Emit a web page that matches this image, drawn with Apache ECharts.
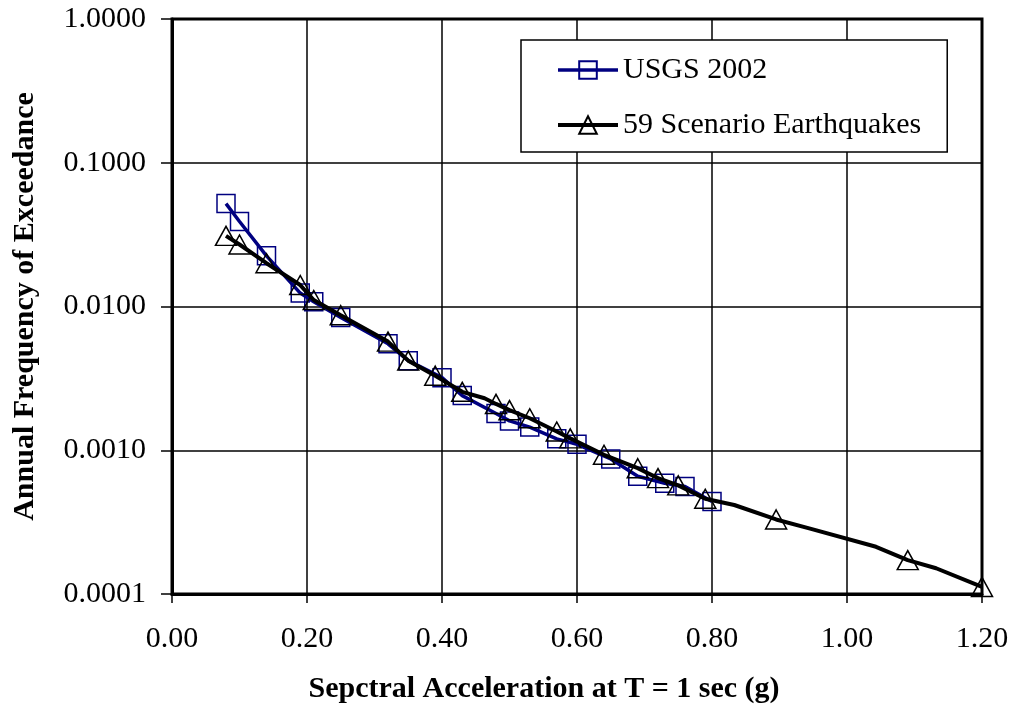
<!DOCTYPE html>
<html>
<head>
<meta charset="utf-8">
<script src="https://cdn.jsdelivr.net/npm/echarts@6/dist/echarts.min.js"></script>
<style>
  html, body { margin: 0; padding: 0; background: #fff; }
  #chart { width: 1018px; height: 712px; }
</style>
</head>
<body>
<div id="chart"></div>
<script>
// USGS 2002 hazard curve (markers on every point)
const usgsX = [0.08, 0.10, 0.14, 0.19, 0.21, 0.25, 0.32, 0.35, 0.40, 0.43, 0.48, 0.50, 0.53, 0.57, 0.60, 0.65, 0.69, 0.73, 0.76, 0.80];
const usgsY = [0.052, 0.039, 0.0225, 0.0124, 0.0108, 0.0084, 0.0055, 0.0042, 0.0032, 0.0024, 0.0018, 0.0016, 0.00145, 0.0012, 0.0011, 0.00087, 0.00066, 0.00059, 0.00056, 0.00044];

// 59 scenario earthquakes: marker points
const scenX = [0.08, 0.10, 0.14, 0.19, 0.21, 0.25, 0.32, 0.35, 0.39, 0.43, 0.48, 0.50, 0.53, 0.57, 0.59, 0.64, 0.69, 0.72, 0.75, 0.79, 0.895, 1.09, 1.20];
const scenY = [0.031, 0.027, 0.020, 0.0141, 0.0111, 0.0087, 0.0057, 0.0042, 0.0033, 0.00255, 0.0021, 0.0019, 0.00167, 0.00135, 0.00121, 0.00093, 0.00075, 0.00064, 0.00057, 0.00046, 0.00033, 0.000172, 0.000112];
// extra points on the same curve that carry no marker
const scenLineX = [0.463, 0.833, 0.944, 1.043, 1.132];
const scenLineY = [0.0023, 0.000416, 0.000286, 0.000213, 0.000151];

const FONT = "'Liberation Serif', 'Times New Roman', serif";

const usgsData = usgsX.map((x, i) => [x, usgsY[i]]);

let scenPts = scenX.map((x, i) => ({ value: [x, scenY[i]] }));
scenLineX.forEach((x, i) => scenPts.push({ value: [x, scenLineY[i]], symbol: 'none' }));
scenPts.sort((a, b) => a.value[0] - b.value[0]);

const chart = echarts.init(document.getElementById('chart'), null, { renderer: 'canvas' });

const option = {
  animation: false,
  backgroundColor: '#fff',
  grid: {
    left: 172,
    right: 36,
    top: 19,
    bottom: 118,
    show: true,
    borderColor: '#000',
    borderWidth: 3
  },
  legend: {
    orient: 'vertical',
    left: 521,
    top: 40,
    padding: [15, 26, 12, 35],
    itemGap: 25,
    itemWidth: 60,
    itemHeight: 22,
    backgroundColor: '#fff',
    borderColor: '#000',
    borderWidth: 1.5,
    borderRadius: 0,
    textStyle: { fontFamily: FONT, fontSize: 30, color: '#000' },
    data: [
      { name: 'USGS 2002', lineStyle: { width: 3.5, color: '#000080' } },
      { name: '59 Scenario Earthquakes', lineStyle: { width: 4, color: '#000' } }
    ]
  },
  xAxis: {
    type: 'value',
    min: 0,
    max: 1.2,
    interval: 0.2,
    name: 'Sepctral Acceleration at T = 1 sec (g)',
    nameLocation: 'middle',
    nameGap: 80,
    nameTextStyle: {
      fontFamily: FONT, fontSize: 30, fontWeight: 'bold', color: '#000',
      padding: [0, 66, 0, 0]
    },
    axisLine: { show: true, lineStyle: { color: '#000', width: 3 } },
    axisTick: { show: true, inside: false, length: 9, lineStyle: { color: '#000', width: 1.5 } },
    axisLabel: {
      margin: 30, fontFamily: FONT, fontSize: 30, color: '#000',
      formatter: v => v.toFixed(2)
    },
    splitLine: { show: true, lineStyle: { color: '#000', width: 1.5 } }
  },
  yAxis: {
    type: 'log',
    logBase: 10,
    min: 0.0001,
    max: 1,
    name: 'Annual Frequency of Exceedance',
    nameLocation: 'middle',
    nameRotate: 90,
    nameGap: 132,
    nameTextStyle: { fontFamily: FONT, fontSize: 30, fontWeight: 'bold', color: '#000' },
    axisLine: { show: true, lineStyle: { color: '#000', width: 3 } },
    axisTick: { show: true, inside: false, length: 11, lineStyle: { color: '#000', width: 1.5 } },
    axisLabel: {
      margin: 26, fontFamily: FONT, fontSize: 30, color: '#000',
      formatter: v => Number(v).toFixed(4)
    },
    splitLine: { show: true, lineStyle: { color: '#000', width: 1.5 } },
    minorTick: { show: false }
  },
  series: [
    {
      name: 'USGS 2002',
      type: 'line',
      data: usgsData,
      symbol: 'rect',
      symbolSize: 18,
      lineStyle: { color: '#000080', width: 3.5 },
      itemStyle: { color: 'rgba(0,0,0,0)', borderColor: '#000080', borderWidth: 1.5 },
      z: 2
    },
    {
      name: '59 Scenario Earthquakes',
      type: 'line',
      data: scenPts,
      symbol: 'triangle',
      symbolSize: [21, 19],
      lineStyle: { color: '#000', width: 4 },
      itemStyle: { color: 'rgba(0,0,0,0)', borderColor: '#000', borderWidth: 1.5 },
      z: 3
    }
  ]
};

chart.setOption(option);
</script>
</body>
</html>
